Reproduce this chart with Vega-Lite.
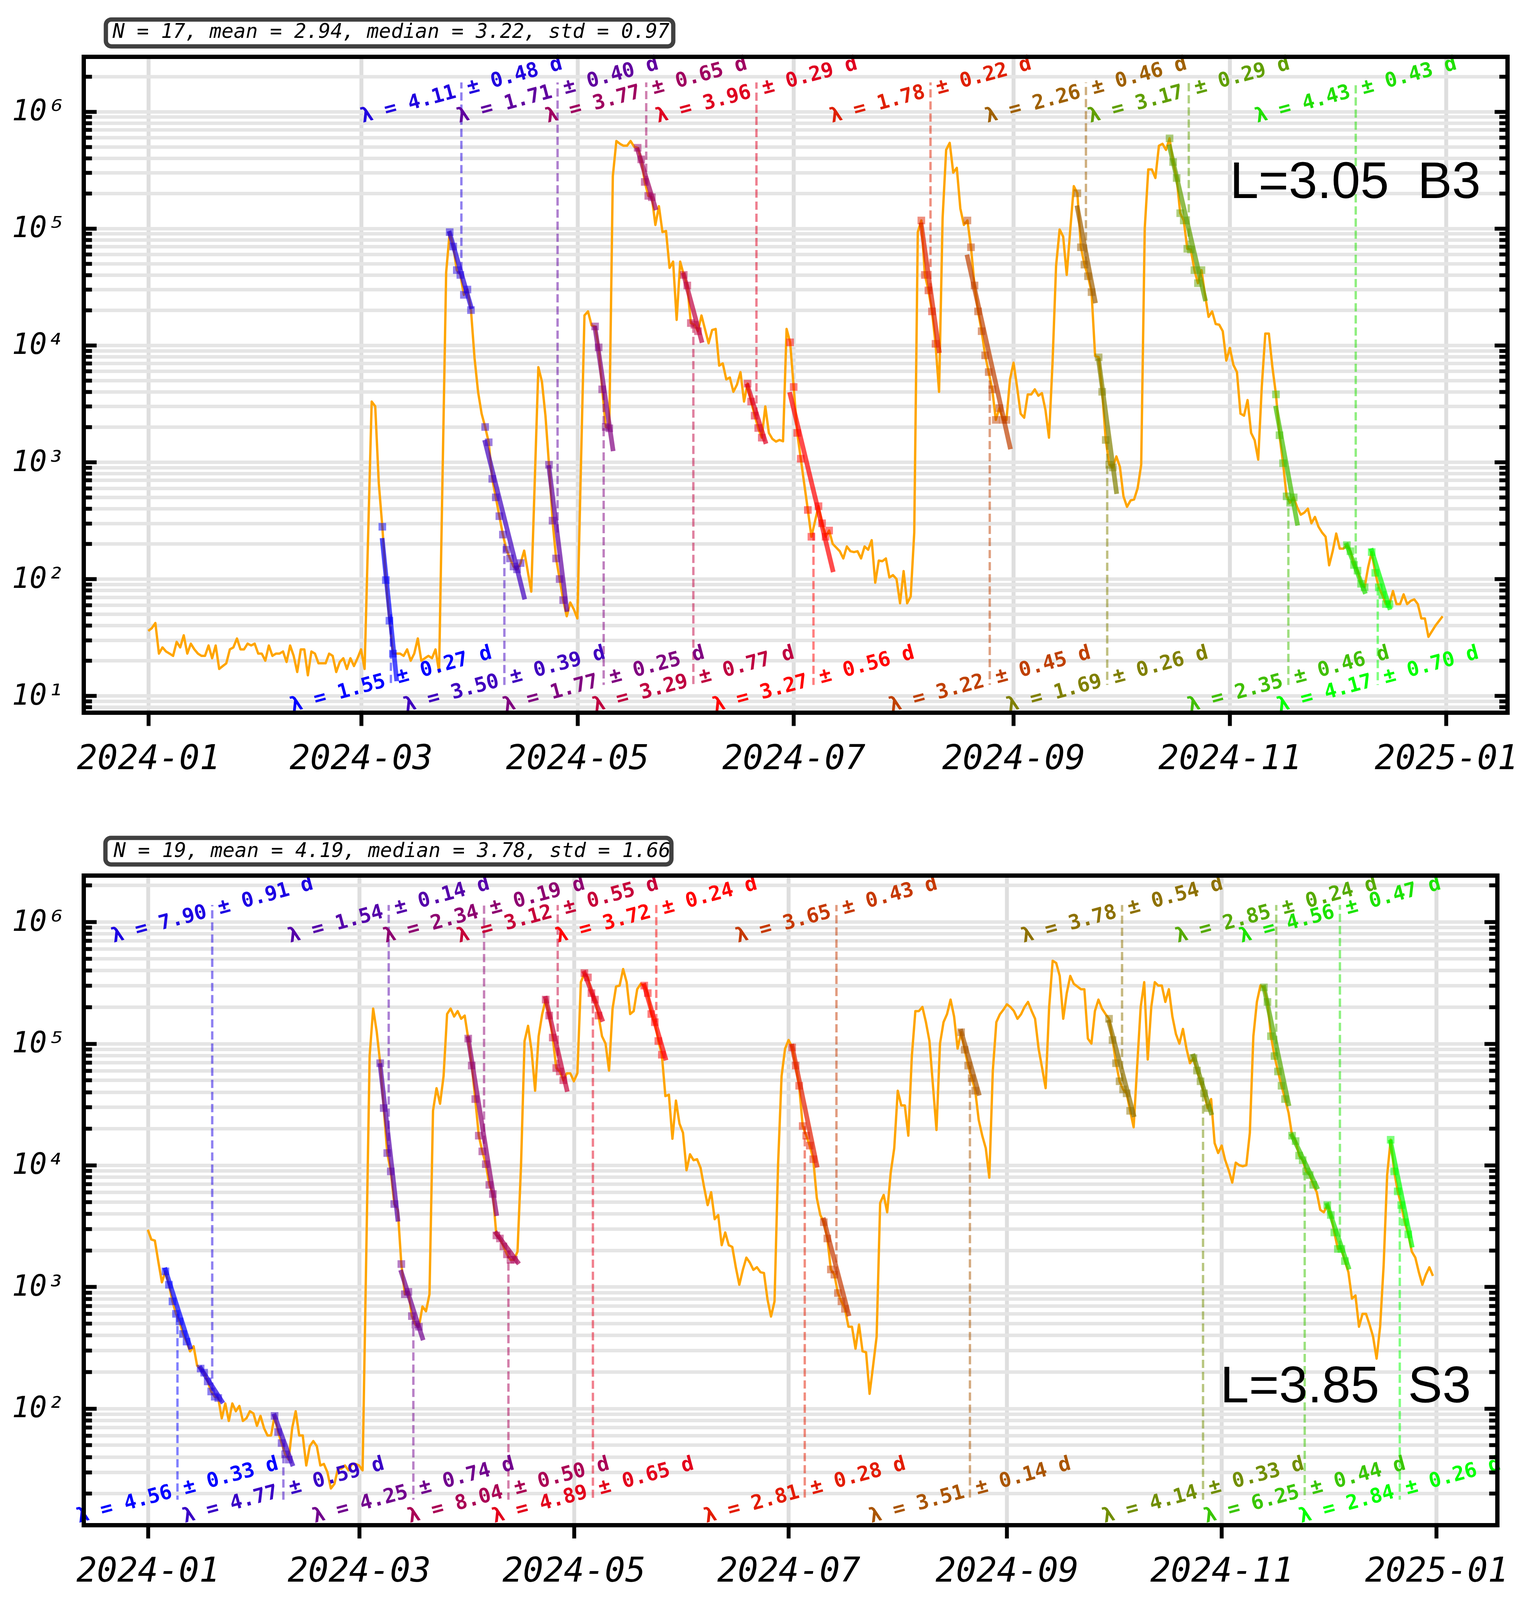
{
"$schema": "https://vega.github.io/schema/vega-lite/v6.json",
"background": "white",
"padding": {"left": 30, "top": 44, "right": 5, "bottom": 5},
"bounds": "flush",
"spacing": 417,
"resolve": {"scale": {"color": "independent"}},
"config": {
  "view": {"stroke": null},
  "axis": {"title": null, "domainColor": "black", "domainWidth": 11, "domainCap": "square", "tickColor": "black", "tickWidth": 10, "gridColor": "#e5e5e5", "gridWidth": 9, "labelColor": "black", "labelFont": "DejaVu Sans Mono", "labelFontStyle": "italic", "labelOverlap": false, "labelFlush": false, "labelBound": false, "labelLimit": 1000}
},
"datasets": {
"s1": [
{"t":"2024-01-01","v":36},{"t":"2024-01-02","v":38},{"t":"2024-01-03","v":42},{"t":"2024-01-04","v":23},{"t":"2024-01-05","v":26},{"t":"2024-01-06","v":24},{"t":"2024-01-07","v":23},{"t":"2024-01-08","v":22},{"t":"2024-01-09","v":29},{"t":"2024-01-10","v":26},{"t":"2024-01-11","v":33},{"t":"2024-01-12","v":23},{"t":"2024-01-13","v":28},{"t":"2024-01-14","v":25},{"t":"2024-01-15","v":23},{"t":"2024-01-16","v":22},{"t":"2024-01-17","v":22},{"t":"2024-01-18","v":27},{"t":"2024-01-19","v":21},{"t":"2024-01-20","v":27},{"t":"2024-01-21","v":17},{"t":"2024-01-22","v":18},{"t":"2024-01-23","v":19},{"t":"2024-01-24","v":25},{"t":"2024-01-25","v":26},{"t":"2024-01-26","v":31},{"t":"2024-01-27","v":25},{"t":"2024-01-28","v":25},{"t":"2024-01-29","v":28},{"t":"2024-01-30","v":27},{"t":"2024-01-31","v":28},
{"t":"2024-02-01","v":23},{"t":"2024-02-02","v":23},{"t":"2024-02-03","v":20},{"t":"2024-02-04","v":27},{"t":"2024-02-05","v":22},{"t":"2024-02-06","v":23},{"t":"2024-02-07","v":23},{"t":"2024-02-08","v":24},{"t":"2024-02-09","v":19.5},{"t":"2024-02-10","v":27},{"t":"2024-02-11","v":22},{"t":"2024-02-12","v":16},{"t":"2024-02-13","v":25},{"t":"2024-02-14","v":25},{"t":"2024-02-15","v":15},{"t":"2024-02-16","v":24},{"t":"2024-02-17","v":23},{"t":"2024-02-18","v":19},{"t":"2024-02-19","v":19},{"t":"2024-02-20","v":19},{"t":"2024-02-21","v":23},{"t":"2024-02-22","v":22},{"t":"2024-02-23","v":16},{"t":"2024-02-24","v":19.5},{"t":"2024-02-25","v":21},{"t":"2024-02-26","v":17},{"t":"2024-02-27","v":21},{"t":"2024-02-28","v":18},{"t":"2024-02-29","v":21},
{"t":"2024-03-01","v":25},{"t":"2024-03-02","v":17},{"t":"2024-03-04","v":3300},{"t":"2024-03-05","v":3000},{"t":"2024-03-06","v":660},{"t":"2024-03-07","v":280,"fit":1},{"t":"2024-03-08","v":98,"fit":1},{"t":"2024-03-09","v":44,"fit":1},{"t":"2024-03-10","v":23,"fit":1},{"t":"2024-03-12","v":23},{"t":"2024-03-13","v":22},{"t":"2024-03-14","v":25},{"t":"2024-03-15","v":20},{"t":"2024-03-16","v":23},{"t":"2024-03-17","v":31},{"t":"2024-03-18","v":20},{"t":"2024-03-19","v":21},{"t":"2024-03-20","v":22},{"t":"2024-03-21","v":21},{"t":"2024-03-22","v":25},{"t":"2024-03-23","v":16},{"t":"2024-03-25","v":42000},{"t":"2024-03-26","v":93000,"fit":2},{"t":"2024-03-27","v":70000,"fit":2},{"t":"2024-03-28","v":44000,"fit":2},{"t":"2024-03-29","v":40000,"fit":2},{"t":"2024-03-30","v":27000,"fit":2},{"t":"2024-03-31","v":30000,"fit":2},
{"t":"2024-04-01","v":20000,"fit":2},{"t":"2024-04-02","v":7800},{"t":"2024-04-03","v":4000},{"t":"2024-04-04","v":2600},{"t":"2024-04-05","v":2000,"fit":3},{"t":"2024-04-06","v":1480,"fit":3},{"t":"2024-04-07","v":720,"fit":3},{"t":"2024-04-08","v":500,"fit":3},{"t":"2024-04-09","v":345,"fit":3},{"t":"2024-04-10","v":240,"fit":3},{"t":"2024-04-11","v":178,"fit":3},{"t":"2024-04-12","v":150,"fit":3},{"t":"2024-04-13","v":128,"fit":3},{"t":"2024-04-14","v":121,"fit":3},{"t":"2024-04-15","v":137,"fit":3},{"t":"2024-04-16","v":175},{"t":"2024-04-18","v":78},{"t":"2024-04-20","v":6500},{"t":"2024-04-21","v":4900},{"t":"2024-04-22","v":2500},{"t":"2024-04-23","v":950,"fit":4},{"t":"2024-04-24","v":316,"fit":4},{"t":"2024-04-25","v":150,"fit":4},{"t":"2024-04-26","v":100,"fit":4},{"t":"2024-04-27","v":66,"fit":4},{"t":"2024-04-28","v":48},{"t":"2024-04-29","v":63},{"t":"2024-04-30","v":55},
{"t":"2024-05-01","v":46},{"t":"2024-05-03","v":18000},{"t":"2024-05-04","v":19500},{"t":"2024-05-05","v":14800},{"t":"2024-05-06","v":14500,"fit":5},{"t":"2024-05-07","v":9600,"fit":5},{"t":"2024-05-08","v":4200,"fit":5},{"t":"2024-05-09","v":2000,"fit":5},{"t":"2024-05-10","v":1950,"fit":5},{"t":"2024-05-11","v":280000},{"t":"2024-05-12","v":560000},{"t":"2024-05-13","v":530000},{"t":"2024-05-14","v":510000},{"t":"2024-05-15","v":510000},{"t":"2024-05-16","v":560000},{"t":"2024-05-17","v":500000},{"t":"2024-05-18","v":490000,"fit":6},{"t":"2024-05-19","v":390000,"fit":6},{"t":"2024-05-20","v":250000,"fit":6},{"t":"2024-05-21","v":190000,"fit":6},{"t":"2024-05-22","v":185000,"fit":6},{"t":"2024-05-23","v":107000},{"t":"2024-05-24","v":155000},{"t":"2024-05-25","v":93000},{"t":"2024-05-26","v":95000},{"t":"2024-05-27","v":46000},{"t":"2024-05-28","v":52000},{"t":"2024-05-29","v":16500},{"t":"2024-05-30","v":52000},{"t":"2024-05-31","v":40000,"fit":7},
{"t":"2024-06-01","v":32500,"fit":7},{"t":"2024-06-02","v":15500,"fit":7},{"t":"2024-06-03","v":15000,"fit":7},{"t":"2024-06-04","v":13200,"fit":7},{"t":"2024-06-05","v":18000},{"t":"2024-06-06","v":13700},{"t":"2024-06-07","v":10400},{"t":"2024-06-08","v":13500},{"t":"2024-06-09","v":13800},{"t":"2024-06-10","v":6700},{"t":"2024-06-11","v":7000},{"t":"2024-06-12","v":5100},{"t":"2024-06-13","v":5300},{"t":"2024-06-14","v":4000},{"t":"2024-06-15","v":4600},{"t":"2024-06-16","v":5900},{"t":"2024-06-17","v":3300},{"t":"2024-06-18","v":4700,"fit":8},{"t":"2024-06-19","v":3300,"fit":8},{"t":"2024-06-20","v":2500,"fit":8},{"t":"2024-06-21","v":1960,"fit":8},{"t":"2024-06-22","v":1620,"fit":8},{"t":"2024-06-23","v":3000},{"t":"2024-06-24","v":1780},{"t":"2024-06-25","v":1580},{"t":"2024-06-26","v":1500},{"t":"2024-06-27","v":1550},{"t":"2024-06-28","v":1510},{"t":"2024-06-29","v":13800},{"t":"2024-06-30","v":10600,"fit":9},
{"t":"2024-07-01","v":4400,"fit":9},{"t":"2024-07-02","v":1780,"fit":9},{"t":"2024-07-03","v":1070,"fit":9},{"t":"2024-07-05","v":390,"fit":9},{"t":"2024-07-06","v":230,"fit":9},{"t":"2024-07-08","v":420,"fit":9},{"t":"2024-07-09","v":300,"fit":9},{"t":"2024-07-10","v":230,"fit":9},{"t":"2024-07-11","v":260,"fit":9},{"t":"2024-07-12","v":200},{"t":"2024-07-14","v":173},{"t":"2024-07-15","v":150},{"t":"2024-07-16","v":190},{"t":"2024-07-17","v":173},{"t":"2024-07-18","v":170},{"t":"2024-07-19","v":173},{"t":"2024-07-20","v":150},{"t":"2024-07-21","v":190},{"t":"2024-07-22","v":178},{"t":"2024-07-23","v":215},{"t":"2024-07-24","v":93},{"t":"2024-07-25","v":144},{"t":"2024-07-26","v":142},{"t":"2024-07-27","v":150},{"t":"2024-07-28","v":103},{"t":"2024-07-29","v":108},{"t":"2024-07-30","v":100},{"t":"2024-07-31","v":62},
{"t":"2024-08-01","v":117},{"t":"2024-08-02","v":62},{"t":"2024-08-03","v":71},{"t":"2024-08-04","v":250},{"t":"2024-08-05","v":93000},{"t":"2024-08-06","v":117000,"fit":10},{"t":"2024-08-07","v":40000,"fit":10},{"t":"2024-08-08","v":29500,"fit":10},{"t":"2024-08-09","v":19500,"fit":10},{"t":"2024-08-10","v":10300,"fit":10},{"t":"2024-08-11","v":4000},{"t":"2024-08-12","v":123000},{"t":"2024-08-13","v":470000},{"t":"2024-08-14","v":540000},{"t":"2024-08-15","v":300000},{"t":"2024-08-16","v":330000},{"t":"2024-08-17","v":148000},{"t":"2024-08-18","v":107000},{"t":"2024-08-19","v":117000,"fit":11},{"t":"2024-08-20","v":69000,"fit":11},{"t":"2024-08-21","v":32500,"fit":11},{"t":"2024-08-22","v":19500,"fit":11},{"t":"2024-08-23","v":13200,"fit":11},{"t":"2024-08-24","v":8200,"fit":11},{"t":"2024-08-25","v":5900,"fit":11},{"t":"2024-08-26","v":4200,"fit":11},{"t":"2024-08-27","v":2300,"fit":11},{"t":"2024-08-28","v":2900,"fit":11},{"t":"2024-08-29","v":2300,"fit":11},{"t":"2024-08-30","v":2300,"fit":11},{"t":"2024-08-31","v":5100},
{"t":"2024-09-01","v":7100},{"t":"2024-09-02","v":4400},{"t":"2024-09-03","v":2600},{"t":"2024-09-04","v":2400},{"t":"2024-09-05","v":3800},{"t":"2024-09-06","v":3800},{"t":"2024-09-07","v":4200},{"t":"2024-09-08","v":3700},{"t":"2024-09-09","v":3900},{"t":"2024-09-10","v":2800},{"t":"2024-09-11","v":1620},{"t":"2024-09-12","v":7100},{"t":"2024-09-13","v":48000},{"t":"2024-09-14","v":98000},{"t":"2024-09-15","v":85000},{"t":"2024-09-16","v":40000},{"t":"2024-09-17","v":98000},{"t":"2024-09-18","v":230000},{"t":"2024-09-19","v":200000,"fit":12},{"t":"2024-09-20","v":69000,"fit":12},{"t":"2024-09-21","v":49000,"fit":12},{"t":"2024-09-22","v":39000,"fit":12},{"t":"2024-09-23","v":28500,"fit":12},{"t":"2024-09-24","v":8100},{"t":"2024-09-25","v":7900,"fit":13},{"t":"2024-09-26","v":4000,"fit":13},{"t":"2024-09-27","v":1550,"fit":13},{"t":"2024-09-28","v":950,"fit":13},{"t":"2024-09-29","v":900,"fit":13},{"t":"2024-09-30","v":1120},
{"t":"2024-10-01","v":910},{"t":"2024-10-02","v":510},{"t":"2024-10-03","v":415},{"t":"2024-10-04","v":470},{"t":"2024-10-05","v":480},{"t":"2024-10-06","v":600},{"t":"2024-10-07","v":950},{"t":"2024-10-08","v":100000},{"t":"2024-10-09","v":320000},{"t":"2024-10-10","v":320000},{"t":"2024-10-11","v":270000},{"t":"2024-10-12","v":510000},{"t":"2024-10-13","v":530000},{"t":"2024-10-14","v":470000},{"t":"2024-10-15","v":590000,"fit":14},{"t":"2024-10-16","v":370000,"fit":14},{"t":"2024-10-17","v":270000,"fit":14},{"t":"2024-10-18","v":135000,"fit":14},{"t":"2024-10-19","v":117000,"fit":14},{"t":"2024-10-20","v":67000,"fit":14},{"t":"2024-10-21","v":66000,"fit":14},{"t":"2024-10-22","v":44000,"fit":14},{"t":"2024-10-23","v":34000,"fit":14},{"t":"2024-10-24","v":44000,"fit":14},{"t":"2024-10-25","v":27000},{"t":"2024-10-26","v":17500},{"t":"2024-10-27","v":19500},{"t":"2024-10-28","v":15200},{"t":"2024-10-29","v":15000},{"t":"2024-10-30","v":13200},{"t":"2024-10-31","v":7400},
{"t":"2024-11-01","v":9500},{"t":"2024-11-02","v":6800},{"t":"2024-11-03","v":5900},{"t":"2024-11-04","v":2600},{"t":"2024-11-05","v":2500},{"t":"2024-11-06","v":3400},{"t":"2024-11-07","v":1780},{"t":"2024-11-08","v":1540},{"t":"2024-11-09","v":1050},{"t":"2024-11-10","v":4400},{"t":"2024-11-11","v":12600},{"t":"2024-11-12","v":12600},{"t":"2024-11-13","v":6500},{"t":"2024-11-14","v":3800,"fit":15},{"t":"2024-11-15","v":1700,"fit":15},{"t":"2024-11-16","v":980,"fit":15},{"t":"2024-11-17","v":510,"fit":15},{"t":"2024-11-18","v":450,"fit":15},{"t":"2024-11-19","v":500,"fit":15},{"t":"2024-11-20","v":410},{"t":"2024-11-21","v":355},{"t":"2024-11-22","v":370},{"t":"2024-11-23","v":400},{"t":"2024-11-24","v":300},{"t":"2024-11-25","v":340},{"t":"2024-11-26","v":280},{"t":"2024-11-27","v":250},{"t":"2024-11-28","v":230},{"t":"2024-11-29","v":131},{"t":"2024-11-30","v":173},
{"t":"2024-12-01","v":245},{"t":"2024-12-02","v":182},{"t":"2024-12-03","v":182},{"t":"2024-12-04","v":195,"fit":16},{"t":"2024-12-05","v":173,"fit":16},{"t":"2024-12-06","v":132,"fit":16},{"t":"2024-12-07","v":118,"fit":16},{"t":"2024-12-08","v":91,"fit":16},{"t":"2024-12-09","v":85,"fit":16},{"t":"2024-12-10","v":126},{"t":"2024-12-11","v":170,"fit":17},{"t":"2024-12-12","v":113,"fit":17},{"t":"2024-12-13","v":85,"fit":17},{"t":"2024-12-14","v":73,"fit":17},{"t":"2024-12-15","v":61,"fit":17},{"t":"2024-12-16","v":61,"fit":17},{"t":"2024-12-17","v":79},{"t":"2024-12-18","v":61},{"t":"2024-12-19","v":61},{"t":"2024-12-20","v":74},{"t":"2024-12-21","v":61},{"t":"2024-12-22","v":65},{"t":"2024-12-23","v":67},{"t":"2024-12-24","v":61},{"t":"2024-12-25","v":46},{"t":"2024-12-26","v":46},{"t":"2024-12-27","v":32},{"t":"2024-12-29","v":40},{"t":"2024-12-31","v":48}
],
"f1": [
{"fit":1,"t":"2024-03-07","v":214},{"fit":1,"t":"2024-03-11","v":14},
{"fit":2,"t":"2024-03-26","v":91000},{"fit":2,"t":"2024-04-01","v":21400},
{"fit":3,"t":"2024-04-05","v":1480},{"fit":3,"t":"2024-04-16","v":70},
{"fit":4,"t":"2024-04-23","v":900},{"fit":4,"t":"2024-04-28","v":55},
{"fit":5,"t":"2024-05-06","v":14000},{"fit":5,"t":"2024-05-11","v":1300},
{"fit":6,"t":"2024-05-18","v":470000},{"fit":6,"t":"2024-05-23","v":150000},
{"fit":7,"t":"2024-05-31","v":40000},{"fit":7,"t":"2024-06-05","v":11000},
{"fit":8,"t":"2024-06-18","v":4500},{"fit":8,"t":"2024-06-23","v":1500},
{"fit":9,"t":"2024-06-30","v":3800},{"fit":9,"t":"2024-07-12","v":120},
{"fit":10,"t":"2024-08-06","v":107000},{"fit":10,"t":"2024-08-11","v":9000},
{"fit":11,"t":"2024-08-19","v":57000},{"fit":11,"t":"2024-08-31","v":1350},
{"fit":12,"t":"2024-09-19","v":150000},{"fit":12,"t":"2024-09-24","v":24000},
{"fit":13,"t":"2024-09-25","v":7400},{"fit":13,"t":"2024-09-30","v":560},
{"fit":14,"t":"2024-10-15","v":500000},{"fit":14,"t":"2024-10-25","v":25000},
{"fit":15,"t":"2024-11-14","v":2900},{"fit":15,"t":"2024-11-20","v":300},
{"fit":16,"t":"2024-12-04","v":195},{"fit":16,"t":"2024-12-09","v":78},
{"fit":17,"t":"2024-12-11","v":175},{"fit":17,"t":"2024-12-16","v":57}
],
"l1": [
{"fit":1,"t":"2024-03-09T10:00:00Z","v0":50,"pos":"b","label":"λ = 1.55 ± 0.27 d"},
{"fit":2,"t":"2024-03-29T07:00:00Z","v0":44000,"pos":"t","label":"λ = 4.11 ± 0.48 d"},
{"fit":3,"t":"2024-04-10T10:00:00Z","v0":200,"pos":"b","label":"λ = 3.50 ± 0.39 d"},
{"fit":4,"t":"2024-04-25T10:00:00Z","v0":250,"pos":"t","label":"λ = 1.71 ± 0.40 d"},
{"fit":5,"t":"2024-05-08T10:00:00Z","v0":4000,"pos":"b","label":"λ = 1.77 ± 0.25 d"},
{"fit":6,"t":"2024-05-20T10:00:00Z","v0":240000,"pos":"t","label":"λ = 3.77 ± 0.65 d"},
{"fit":7,"t":"2024-06-02T17:00:00Z","v0":15000,"pos":"b","label":"λ = 3.29 ± 0.77 d"},
{"fit":8,"t":"2024-06-20T12:00:00Z","v0":2500,"pos":"t","label":"λ = 3.96 ± 0.29 d"},
{"fit":9,"t":"2024-07-06T14:00:00Z","v0":250,"pos":"b","label":"λ = 3.27 ± 0.56 d"},
{"fit":10,"t":"2024-08-08T14:00:00Z","v0":29000,"pos":"t","label":"λ = 1.78 ± 0.22 d"},
{"fit":11,"t":"2024-08-25T07:00:00Z","v0":5000,"pos":"b","label":"λ = 3.22 ± 0.45 d"},
{"fit":12,"t":"2024-09-21T10:00:00Z","v0":49000,"pos":"t","label":"λ = 2.26 ± 0.46 d"},
{"fit":13,"t":"2024-09-27T10:00:00Z","v0":1500,"pos":"b","label":"λ = 1.69 ± 0.26 d"},
{"fit":14,"t":"2024-10-20T10:00:00Z","v0":67000,"pos":"t","label":"λ = 3.17 ± 0.29 d"},
{"fit":15,"t":"2024-11-17T12:00:00Z","v0":510,"pos":"b","label":"λ = 2.35 ± 0.46 d"},
{"fit":16,"t":"2024-12-06T12:00:00Z","v0":130,"pos":"t","label":"λ = 4.43 ± 0.43 d"},
{"fit":17,"t":"2024-12-12T17:00:00Z","v0":85,"pos":"b","label":"λ = 4.17 ± 0.70 d"}
],
"s2": [
{"t":"2024-01-01","v":2950},{"t":"2024-01-02","v":2450},{"t":"2024-01-03","v":2400},{"t":"2024-01-04","v":1600},{"t":"2024-01-05","v":1090},{"t":"2024-01-06","v":1340,"fit":1},{"t":"2024-01-07","v":1040,"fit":1},{"t":"2024-01-08","v":760,"fit":1},{"t":"2024-01-09","v":600,"fit":1},{"t":"2024-01-10","v":520,"fit":1},{"t":"2024-01-11","v":410,"fit":1},{"t":"2024-01-12","v":355,"fit":1},{"t":"2024-01-13","v":295},{"t":"2024-01-14","v":325},{"t":"2024-01-15","v":225},{"t":"2024-01-16","v":213,"fit":2},{"t":"2024-01-17","v":197,"fit":2},{"t":"2024-01-18","v":167,"fit":2},{"t":"2024-01-19","v":138,"fit":2},{"t":"2024-01-20","v":125,"fit":2},{"t":"2024-01-21","v":122,"fit":2},{"t":"2024-01-22","v":83},{"t":"2024-01-23","v":110},{"t":"2024-01-24","v":79},{"t":"2024-01-25","v":110},{"t":"2024-01-26","v":95},{"t":"2024-01-27","v":105},{"t":"2024-01-28","v":79},{"t":"2024-01-29","v":83},{"t":"2024-01-30","v":95},{"t":"2024-01-31","v":91},
{"t":"2024-02-01","v":72},{"t":"2024-02-02","v":87},{"t":"2024-02-03","v":69},{"t":"2024-02-04","v":60},{"t":"2024-02-05","v":60},{"t":"2024-02-06","v":87,"fit":3},{"t":"2024-02-07","v":64,"fit":3},{"t":"2024-02-08","v":52,"fit":3},{"t":"2024-02-09","v":42,"fit":3},{"t":"2024-02-10","v":38,"fit":3},{"t":"2024-02-11","v":69},{"t":"2024-02-12","v":95},{"t":"2024-02-13","v":60},{"t":"2024-02-14","v":60},{"t":"2024-02-15","v":34},{"t":"2024-02-16","v":49},{"t":"2024-02-17","v":54},{"t":"2024-02-18","v":49},{"t":"2024-02-19","v":34},{"t":"2024-02-20","v":35},{"t":"2024-02-21","v":30},{"t":"2024-02-22","v":22},{"t":"2024-02-23","v":24},{"t":"2024-02-24","v":32},{"t":"2024-02-25","v":32},{"t":"2024-02-26","v":34},{"t":"2024-02-27","v":31},{"t":"2024-02-28","v":35},{"t":"2024-02-29","v":35},
{"t":"2024-03-01","v":34},{"t":"2024-03-02","v":31},{"t":"2024-03-04","v":79000},{"t":"2024-03-05","v":194000},{"t":"2024-03-06","v":126000},{"t":"2024-03-07","v":69000,"fit":4},{"t":"2024-03-08","v":29500,"fit":4},{"t":"2024-03-09","v":12600,"fit":4},{"t":"2024-03-10","v":8900,"fit":4},{"t":"2024-03-11","v":4800,"fit":4},{"t":"2024-03-12","v":4300},{"t":"2024-03-13","v":1540,"fit":5},{"t":"2024-03-14","v":870,"fit":5},{"t":"2024-03-15","v":910,"fit":5},{"t":"2024-03-16","v":575,"fit":5},{"t":"2024-03-17","v":490,"fit":5},{"t":"2024-03-18","v":470,"fit":5},{"t":"2024-03-19","v":690},{"t":"2024-03-20","v":630},{"t":"2024-03-21","v":870},{"t":"2024-03-22","v":28000},{"t":"2024-03-23","v":43000},{"t":"2024-03-24","v":32000},{"t":"2024-03-25","v":54000},{"t":"2024-03-26","v":175000},{"t":"2024-03-27","v":194000},{"t":"2024-03-28","v":167000},{"t":"2024-03-29","v":185000},{"t":"2024-03-30","v":160000},{"t":"2024-03-31","v":170000},
{"t":"2024-04-01","v":110000,"fit":6},{"t":"2024-04-02","v":66000,"fit":6},{"t":"2024-04-03","v":35000,"fit":6},{"t":"2024-04-04","v":17500,"fit":6},{"t":"2024-04-05","v":13000,"fit":6},{"t":"2024-04-06","v":10200,"fit":6},{"t":"2024-04-07","v":6900,"fit":6},{"t":"2024-04-08","v":5800,"fit":6},{"t":"2024-04-09","v":2650,"fit":7},{"t":"2024-04-10","v":2500,"fit":7},{"t":"2024-04-11","v":2150,"fit":7},{"t":"2024-04-12","v":1850,"fit":7},{"t":"2024-04-13","v":1670,"fit":7},{"t":"2024-04-14","v":1670,"fit":7},{"t":"2024-04-15","v":1950},{"t":"2024-04-16","v":10000},{"t":"2024-04-17","v":105000},{"t":"2024-04-18","v":140000},{"t":"2024-04-19","v":87000},{"t":"2024-04-20","v":41000},{"t":"2024-04-21","v":115000},{"t":"2024-04-22","v":174000},{"t":"2024-04-23","v":230000,"fit":8},{"t":"2024-04-24","v":170000,"fit":8},{"t":"2024-04-25","v":112000,"fit":8},{"t":"2024-04-26","v":63000,"fit":8},{"t":"2024-04-27","v":59000,"fit":8},{"t":"2024-04-28","v":50000,"fit":8},{"t":"2024-04-29","v":57000},{"t":"2024-04-30","v":57000},
{"t":"2024-05-01","v":49000},{"t":"2024-05-02","v":57000},{"t":"2024-05-03","v":320000},{"t":"2024-05-04","v":380000,"fit":9},{"t":"2024-05-05","v":350000,"fit":9},{"t":"2024-05-06","v":260000,"fit":9},{"t":"2024-05-07","v":230000,"fit":9},{"t":"2024-05-08","v":170000,"fit":9},{"t":"2024-05-09","v":115000},{"t":"2024-05-10","v":100000},{"t":"2024-05-11","v":60000},{"t":"2024-05-12","v":194000},{"t":"2024-05-13","v":295000},{"t":"2024-05-14","v":300000},{"t":"2024-05-15","v":410000},{"t":"2024-05-16","v":320000},{"t":"2024-05-17","v":175000},{"t":"2024-05-18","v":185000},{"t":"2024-05-19","v":280000},{"t":"2024-05-20","v":310000},{"t":"2024-05-21","v":300000,"fit":10},{"t":"2024-05-22","v":260000,"fit":10},{"t":"2024-05-23","v":175000,"fit":10},{"t":"2024-05-24","v":150000,"fit":10},{"t":"2024-05-25","v":105000,"fit":10},{"t":"2024-05-26","v":81000,"fit":10},{"t":"2024-05-27","v":37000},{"t":"2024-05-28","v":38000},{"t":"2024-05-29","v":16500},{"t":"2024-05-30","v":34000},{"t":"2024-05-31","v":22000},
{"t":"2024-06-01","v":18500},{"t":"2024-06-02","v":9100},{"t":"2024-06-03","v":12300},{"t":"2024-06-04","v":11000},{"t":"2024-06-05","v":11200},{"t":"2024-06-06","v":9500},{"t":"2024-06-07","v":6600},{"t":"2024-06-08","v":4700},{"t":"2024-06-09","v":6000},{"t":"2024-06-10","v":3600},{"t":"2024-06-11","v":3900},{"t":"2024-06-12","v":2200},{"t":"2024-06-13","v":2800},{"t":"2024-06-14","v":2200},{"t":"2024-06-15","v":2130},{"t":"2024-06-16","v":1450},{"t":"2024-06-17","v":1040},{"t":"2024-06-18","v":1380},{"t":"2024-06-19","v":1740},{"t":"2024-06-20","v":1580},{"t":"2024-06-21","v":1380},{"t":"2024-06-22","v":1450},{"t":"2024-06-23","v":1320},{"t":"2024-06-24","v":1300},{"t":"2024-06-25","v":790},{"t":"2024-06-26","v":570},{"t":"2024-06-27","v":760},{"t":"2024-06-28","v":10000},{"t":"2024-06-29","v":54000},{"t":"2024-06-30","v":91000},
{"t":"2024-07-01","v":107000},{"t":"2024-07-02","v":93000,"fit":11},{"t":"2024-07-03","v":66000,"fit":11},{"t":"2024-07-04","v":45000,"fit":11},{"t":"2024-07-05","v":21000,"fit":11},{"t":"2024-07-06","v":17500,"fit":11},{"t":"2024-07-07","v":14500,"fit":11},{"t":"2024-07-08","v":11200,"fit":11},{"t":"2024-07-09","v":5400},{"t":"2024-07-10","v":3900},{"t":"2024-07-11","v":3400,"fit":12},{"t":"2024-07-12","v":2500,"fit":12},{"t":"2024-07-13","v":1390,"fit":12},{"t":"2024-07-14","v":1260,"fit":12},{"t":"2024-07-15","v":890,"fit":12},{"t":"2024-07-16","v":760,"fit":12},{"t":"2024-07-17","v":660,"fit":12},{"t":"2024-07-18","v":470},{"t":"2024-07-19","v":470},{"t":"2024-07-20","v":310},{"t":"2024-07-21","v":490},{"t":"2024-07-22","v":295},{"t":"2024-07-23","v":290},{"t":"2024-07-24","v":132},{"t":"2024-07-25","v":225},{"t":"2024-07-26","v":390},{"t":"2024-07-27","v":4900},{"t":"2024-07-28","v":5700},{"t":"2024-07-29","v":4100},{"t":"2024-07-30","v":8700},{"t":"2024-07-31","v":13800},
{"t":"2024-08-01","v":41000},{"t":"2024-08-02","v":31000},{"t":"2024-08-03","v":31000},{"t":"2024-08-04","v":17500},{"t":"2024-08-05","v":79000},{"t":"2024-08-06","v":185000},{"t":"2024-08-07","v":185000},{"t":"2024-08-08","v":200000},{"t":"2024-08-09","v":150000},{"t":"2024-08-10","v":105000},{"t":"2024-08-11","v":45000},{"t":"2024-08-12","v":19500},{"t":"2024-08-13","v":100000},{"t":"2024-08-14","v":150000},{"t":"2024-08-15","v":175000},{"t":"2024-08-16","v":230000},{"t":"2024-08-17","v":167000},{"t":"2024-08-18","v":91000},{"t":"2024-08-19","v":124000,"fit":13},{"t":"2024-08-20","v":89000,"fit":13},{"t":"2024-08-21","v":66000,"fit":13},{"t":"2024-08-22","v":52000,"fit":13},{"t":"2024-08-23","v":41000,"fit":13},{"t":"2024-08-24","v":23500},{"t":"2024-08-25","v":17500},{"t":"2024-08-26","v":13800},{"t":"2024-08-27","v":7900},{"t":"2024-08-28","v":60000},{"t":"2024-08-29","v":150000},{"t":"2024-08-30","v":174000},{"t":"2024-08-31","v":190000},
{"t":"2024-09-01","v":210000},{"t":"2024-09-02","v":200000},{"t":"2024-09-03","v":185000},{"t":"2024-09-04","v":160000},{"t":"2024-09-05","v":174000},{"t":"2024-09-06","v":200000},{"t":"2024-09-07","v":220000},{"t":"2024-09-08","v":186000},{"t":"2024-09-09","v":160000},{"t":"2024-09-10","v":91000},{"t":"2024-09-11","v":63000},{"t":"2024-09-12","v":43000},{"t":"2024-09-13","v":200000},{"t":"2024-09-14","v":480000},{"t":"2024-09-15","v":460000},{"t":"2024-09-16","v":360000},{"t":"2024-09-17","v":160000},{"t":"2024-09-18","v":260000},{"t":"2024-09-19","v":360000},{"t":"2024-09-20","v":310000},{"t":"2024-09-21","v":295000},{"t":"2024-09-22","v":280000},{"t":"2024-09-23","v":280000},{"t":"2024-09-24","v":110000},{"t":"2024-09-25","v":100000},{"t":"2024-09-26","v":185000},{"t":"2024-09-27","v":230000},{"t":"2024-09-28","v":194000},{"t":"2024-09-29","v":175000},{"t":"2024-09-30","v":160000,"fit":14},
{"t":"2024-10-01","v":107000,"fit":14},{"t":"2024-10-02","v":69000,"fit":14},{"t":"2024-10-03","v":49000,"fit":14},{"t":"2024-10-04","v":42000,"fit":14},{"t":"2024-10-05","v":39000,"fit":14},{"t":"2024-10-06","v":28000,"fit":14},{"t":"2024-10-07","v":20500},{"t":"2024-10-08","v":66000},{"t":"2024-10-09","v":200000},{"t":"2024-10-10","v":320000},{"t":"2024-10-11","v":74000},{"t":"2024-10-12","v":200000},{"t":"2024-10-13","v":320000},{"t":"2024-10-14","v":300000},{"t":"2024-10-15","v":300000},{"t":"2024-10-16","v":220000},{"t":"2024-10-17","v":280000},{"t":"2024-10-18","v":167000},{"t":"2024-10-19","v":120000},{"t":"2024-10-20","v":100000},{"t":"2024-10-21","v":132000},{"t":"2024-10-22","v":91000},{"t":"2024-10-23","v":69000},{"t":"2024-10-24","v":76000,"fit":15},{"t":"2024-10-25","v":60000,"fit":15},{"t":"2024-10-26","v":49000,"fit":15},{"t":"2024-10-27","v":39000,"fit":15},{"t":"2024-10-28","v":29500,"fit":15},{"t":"2024-10-29","v":35000},{"t":"2024-10-30","v":15200},{"t":"2024-10-31","v":12600},
{"t":"2024-11-01","v":14500},{"t":"2024-11-02","v":11000},{"t":"2024-11-03","v":9100},{"t":"2024-11-04","v":7200},{"t":"2024-11-05","v":10500},{"t":"2024-11-06","v":10000},{"t":"2024-11-07","v":9800},{"t":"2024-11-08","v":10000},{"t":"2024-11-09","v":18500},{"t":"2024-11-10","v":115000},{"t":"2024-11-11","v":220000},{"t":"2024-11-12","v":300000},{"t":"2024-11-13","v":290000,"fit":16},{"t":"2024-11-14","v":220000,"fit":16},{"t":"2024-11-15","v":115000,"fit":16},{"t":"2024-11-16","v":79000,"fit":16},{"t":"2024-11-17","v":59000,"fit":16},{"t":"2024-11-18","v":45000,"fit":16},{"t":"2024-11-19","v":35000,"fit":16},{"t":"2024-11-20","v":27000},{"t":"2024-11-21","v":17500,"fit":17},{"t":"2024-11-22","v":15800,"fit":17},{"t":"2024-11-23","v":12000,"fit":17},{"t":"2024-11-24","v":11000,"fit":17},{"t":"2024-11-25","v":8900,"fit":17},{"t":"2024-11-26","v":8300,"fit":17},{"t":"2024-11-27","v":6900,"fit":17},{"t":"2024-11-28","v":6000},{"t":"2024-11-29","v":4300},{"t":"2024-11-30","v":4100},
{"t":"2024-12-01","v":4700,"fit":18},{"t":"2024-12-02","v":3900,"fit":18},{"t":"2024-12-03","v":2800,"fit":18},{"t":"2024-12-04","v":2050,"fit":18},{"t":"2024-12-05","v":2050,"fit":18},{"t":"2024-12-06","v":1630,"fit":18},{"t":"2024-12-07","v":1320},{"t":"2024-12-08","v":800},{"t":"2024-12-09","v":850},{"t":"2024-12-10","v":470},{"t":"2024-12-11","v":600},{"t":"2024-12-12","v":600},{"t":"2024-12-13","v":490},{"t":"2024-12-14","v":390},{"t":"2024-12-15","v":257},{"t":"2024-12-16","v":470},{"t":"2024-12-17","v":1500},{"t":"2024-12-18","v":8300},{"t":"2024-12-19","v":16200,"fit":19},{"t":"2024-12-20","v":8900,"fit":19},{"t":"2024-12-21","v":6100,"fit":19},{"t":"2024-12-22","v":4700,"fit":19},{"t":"2024-12-23","v":3400,"fit":19},{"t":"2024-12-24","v":2700,"fit":19},{"t":"2024-12-25","v":1950},{"t":"2024-12-26","v":1740},{"t":"2024-12-27","v":1320},{"t":"2024-12-28","v":1040},{"t":"2024-12-29","v":1260},{"t":"2024-12-30","v":1450},{"t":"2024-12-31","v":1230}
],
"f2": [
{"fit":1,"t":"2024-01-06","v":1380},{"fit":1,"t":"2024-01-13","v":320},
{"fit":2,"t":"2024-01-16","v":214},{"fit":2,"t":"2024-01-22","v":115},
{"fit":3,"t":"2024-02-06","v":87},{"fit":3,"t":"2024-02-11","v":35},
{"fit":4,"t":"2024-03-07","v":66000},{"fit":4,"t":"2024-03-12","v":3600},
{"fit":5,"t":"2024-03-13","v":1320},{"fit":5,"t":"2024-03-19","v":380},
{"fit":6,"t":"2024-04-01","v":110000},{"fit":6,"t":"2024-04-09","v":4000},
{"fit":7,"t":"2024-04-09","v":2750},{"fit":7,"t":"2024-04-15","v":1600},
{"fit":8,"t":"2024-04-23","v":235000},{"fit":8,"t":"2024-04-29","v":42000},
{"fit":9,"t":"2024-05-04","v":380000},{"fit":9,"t":"2024-05-09","v":158000},
{"fit":10,"t":"2024-05-21","v":300000},{"fit":10,"t":"2024-05-27","v":76000},
{"fit":11,"t":"2024-07-02","v":95000},{"fit":11,"t":"2024-07-09","v":10000},
{"fit":12,"t":"2024-07-11","v":3550},{"fit":12,"t":"2024-07-18","v":600},
{"fit":13,"t":"2024-08-19","v":126000},{"fit":13,"t":"2024-08-24","v":39000},
{"fit":14,"t":"2024-09-30","v":150000},{"fit":14,"t":"2024-10-07","v":26000},
{"fit":15,"t":"2024-10-24","v":79000},{"fit":15,"t":"2024-10-29","v":27000},
{"fit":16,"t":"2024-11-13","v":290000},{"fit":16,"t":"2024-11-20","v":32000},
{"fit":17,"t":"2024-11-21","v":17500},{"fit":17,"t":"2024-11-28","v":6600},
{"fit":18,"t":"2024-12-01","v":4700},{"fit":18,"t":"2024-12-07","v":1450},
{"fit":19,"t":"2024-12-19","v":15500},{"fit":19,"t":"2024-12-25","v":2200}
],
"l2": [
{"fit":1,"t":"2024-01-09T10:00:00Z","v0":600,"pos":"b","label":"λ = 4.56 ± 0.33 d"},
{"fit":2,"t":"2024-01-19T07:00:00Z","v0":140,"pos":"t","label":"λ = 7.90 ± 0.91 d"},
{"fit":3,"t":"2024-02-08T12:00:00Z","v0":52,"pos":"b","label":"λ = 4.77 ± 0.59 d"},
{"fit":4,"t":"2024-03-09T10:00:00Z","v0":12600,"pos":"t","label":"λ = 1.54 ± 0.14 d"},
{"fit":5,"t":"2024-03-16T10:00:00Z","v0":575,"pos":"b","label":"λ = 4.25 ± 0.74 d"},
{"fit":6,"t":"2024-04-05T12:00:00Z","v0":15000,"pos":"t","label":"λ = 2.34 ± 0.19 d"},
{"fit":7,"t":"2024-04-12T10:00:00Z","v0":2000,"pos":"b","label":"λ = 8.04 ± 0.50 d"},
{"fit":8,"t":"2024-04-26T10:00:00Z","v0":63000,"pos":"t","label":"λ = 3.12 ± 0.55 d"},
{"fit":9,"t":"2024-05-06T10:00:00Z","v0":260000,"pos":"b","label":"λ = 4.89 ± 0.65 d"},
{"fit":10,"t":"2024-05-24T10:00:00Z","v0":150000,"pos":"t","label":"λ = 3.72 ± 0.24 d"},
{"fit":11,"t":"2024-07-05T14:00:00Z","v0":21000,"pos":"b","label":"λ = 2.81 ± 0.28 d"},
{"fit":12,"t":"2024-07-14T14:00:00Z","v0":1260,"pos":"t","label":"λ = 3.65 ± 0.43 d"},
{"fit":13,"t":"2024-08-21T12:00:00Z","v0":66000,"pos":"b","label":"λ = 3.51 ± 0.14 d"},
{"fit":14,"t":"2024-10-03T17:00:00Z","v0":49000,"pos":"t","label":"λ = 3.78 ± 0.54 d"},
{"fit":15,"t":"2024-10-26T17:00:00Z","v0":49000,"pos":"b","label":"λ = 4.14 ± 0.33 d"},
{"fit":16,"t":"2024-11-16T12:00:00Z","v0":79000,"pos":"t","label":"λ = 2.85 ± 0.24 d"},
{"fit":17,"t":"2024-11-24T14:00:00Z","v0":11000,"pos":"b","label":"λ = 6.25 ± 0.44 d"},
{"fit":18,"t":"2024-12-04T14:00:00Z","v0":2050,"pos":"t","label":"λ = 4.56 ± 0.47 d"},
{"fit":19,"t":"2024-12-21T14:00:00Z","v0":4700,"pos":"b","label":"λ = 2.84 ± 0.26 d"}
]
},
"vconcat": [
{
 "width": 3646, "height": 1679,
 "resolve": {"axis": {"x": "independent", "y": "independent"}},
 "layer": [
  {
   "data": {"name": "s1"},
   "mark": {"type": "line", "color": "#ffa500", "strokeWidth": 6, "strokeJoin": "round"},
   "encoding": {
    "x": {"field": "t", "type": "temporal",
          "scale": {"type": "utc", "nice": false, "domain": [{"year":2023,"month":12,"date":13,"hours":18,"utc":true},{"year":2025,"month":1,"date":18,"hours":6,"utc":true}]},
          "axis": {"orient": "bottom", "values": [{"year":2024,"month":1,"date":1,"utc":true},{"year":2024,"month":3,"date":1,"utc":true},{"year":2024,"month":5,"date":1,"utc":true},{"year":2024,"month":7,"date":1,"utc":true},{"year":2024,"month":9,"date":1,"utc":true},{"year":2024,"month":11,"date":1,"utc":true},{"year":2025,"month":1,"date":1,"utc":true}],
                   "labelExpr": "utcFormat(datum.value, '%Y-%m')", "tickSize": 34, "labelPadding": 41, "labelFontSize": 87, "grid": false, "domain": true, "zindex": 1}},
    "y": {"field": "v", "type": "quantitative",
          "scale": {"type": "log", "nice": false, "domain": [7.21, 2951000]},
          "axis": {"orient": "left", "values": [10,100,1000,10000,100000,1000000], "tickSize": -33, "labelPadding": 83, "labelFontSize": 74,
                   "labelExpr": "'10' + ['⁰','¹','²','³','⁴','⁵','⁶','⁷'][round(log(datum.value)/LN10)]", "grid": false, "domain": true, "zindex": 1}}
   }
  },
  {
   "data": {"name": "s1"},
   "transform": [{"filter": "isValid(datum.fit)"}],
   "mark": {"type": "point", "shape": "square", "filled": true, "size": 380, "opacity": 0.5, "strokeWidth": 0},
   "encoding": {
    "x": {"field": "t", "type": "temporal",
          "axis": {"orient": "bottom", "values": [{"year":2024,"month":1,"date":1,"utc":true},{"year":2024,"month":3,"date":1,"utc":true},{"year":2024,"month":5,"date":1,"utc":true},{"year":2024,"month":7,"date":1,"utc":true},{"year":2024,"month":9,"date":1,"utc":true},{"year":2024,"month":11,"date":1,"utc":true},{"year":2025,"month":1,"date":1,"utc":true}],
                   "grid": true, "gridColor": "#dedede", "gridWidth": 10, "ticks": false, "labels": false, "domain": false, "zindex": 0}},
    "y": {"field": "v", "type": "quantitative",
          "axis": {"orient": "left", "values": [8,9,10,20,30,40,50,60,70,80,90,100,200,300,400,500,600,700,800,900,1000,2000,3000,4000,5000,6000,7000,8000,9000,10000,20000,30000,40000,50000,60000,70000,80000,90000,100000,200000,300000,400000,500000,600000,700000,800000,900000,1000000,2000000],
                   "grid": true, "ticks": false, "labels": false, "domain": false, "zindex": 0}},
    "color": {"field": "fit", "type": "ordinal", "legend": null, "scale": {"domain": [1,2,3,4,5,6,7,8,9,10,11,12,13,14,15,16,17], "range": ["#0000ff","#2000df","#4000bf","#60009f","#800080","#9f0060","#bf0040","#df0020","#ff0000","#df2000","#bf4000","#9f6000","#808000","#609f00","#40bf00","#20df00","#00ff00"]}}
   }
  },
  {
   "data": {"name": "f1"},
   "mark": {"type": "line", "strokeWidth": 12, "opacity": 0.7, "strokeCap": "square"},
   "encoding": {
    "x": {"field": "t", "type": "temporal", "axis": {"orient": "top", "ticks": false, "labels": false, "domain": true, "grid": false, "zindex": 1}},
    "y": {"field": "v", "type": "quantitative",
          "axis": {"orient": "left", "values": [8,9,20,30,40,50,60,70,80,90,200,300,400,500,600,700,800,900,2000,3000,4000,5000,6000,7000,8000,9000,20000,30000,40000,50000,60000,70000,80000,90000,200000,300000,400000,500000,600000,700000,800000,900000,2000000],
                   "tickSize": -21, "labels": false, "domain": false, "grid": false, "zindex": 1}},
    "color": {"field": "fit", "type": "ordinal", "legend": null, "scale": {"domain": [1,2,3,4,5,6,7,8,9,10,11,12,13,14,15,16,17], "range": ["#0000ff","#2000df","#4000bf","#60009f","#800080","#9f0060","#bf0040","#df0020","#ff0000","#df2000","#bf4000","#9f6000","#808000","#609f00","#40bf00","#20df00","#00ff00"]}}
   }
  },
  {
   "data": {"name": "l1"},
   "transform": [{"filter": "datum.pos == 't'"}],
   "mark": {"type": "rule", "strokeDash": [21, 10], "strokeWidth": 6, "opacity": 0.5},
   "encoding": {
    "x": {"field": "t", "type": "temporal", "axis": null},
    "y": {"field": "v0", "type": "quantitative",
          "axis": {"orient": "right", "values": [10,100,1000,10000,100000,1000000], "tickSize": -33, "labels": false, "domain": true, "grid": false, "zindex": 1}},
    "y2": {"datum": 1774000},
    "color": {"field": "fit", "type": "ordinal", "legend": null, "scale": {"domain": [1,2,3,4,5,6,7,8,9,10,11,12,13,14,15,16,17], "range": ["#0000ff","#2000df","#4000bf","#60009f","#800080","#9f0060","#bf0040","#df0020","#ff0000","#df2000","#bf4000","#9f6000","#808000","#609f00","#40bf00","#20df00","#00ff00"]}}
   }
  },
  {
   "data": {"name": "l1"},
   "transform": [{"filter": "datum.pos == 'b'"}],
   "mark": {"type": "rule", "strokeDash": [21, 10], "strokeWidth": 6, "opacity": 0.5},
   "encoding": {
    "x": {"field": "t", "type": "temporal", "axis": null},
    "y": {"field": "v0", "type": "quantitative",
          "axis": {"orient": "right", "values": [8,9,20,30,40,50,60,70,80,90,200,300,400,500,600,700,800,900,2000,3000,4000,5000,6000,7000,8000,9000,20000,30000,40000,50000,60000,70000,80000,90000,200000,300000,400000,500000,600000,700000,800000,900000,2000000],
                   "tickSize": -21, "labels": false, "domain": false, "grid": false, "zindex": 1}},
    "y2": {"datum": 12.4},
    "color": {"field": "fit", "type": "ordinal", "legend": null, "scale": {"domain": [1,2,3,4,5,6,7,8,9,10,11,12,13,14,15,16,17], "range": ["#0000ff","#2000df","#4000bf","#60009f","#800080","#9f0060","#bf0040","#df0020","#ff0000","#df2000","#bf4000","#9f6000","#808000","#609f00","#40bf00","#20df00","#00ff00"]}}
   }
  },
  {
   "data": {"name": "l1"},
   "transform": [{"filter": "datum.pos == 't'"}],
   "mark": {"type": "text", "font": "DejaVu Sans Mono", "fontWeight": "bold", "fontSize": 52, "angle": 345, "align": "center", "baseline": "middle"},
   "encoding": {
    "x": {"field": "t", "type": "temporal", "axis": null},
    "y": {"datum": 1535000, "axis": null},
    "text": {"field": "label"},
    "color": {"field": "fit", "type": "ordinal", "legend": null, "scale": {"domain": [1,2,3,4,5,6,7,8,9,10,11,12,13,14,15,16,17], "range": ["#0000ff","#2000df","#4000bf","#60009f","#800080","#9f0060","#bf0040","#df0020","#ff0000","#df2000","#bf4000","#9f6000","#808000","#609f00","#40bf00","#20df00","#00ff00"]}}
   }
  },
  {
   "data": {"name": "l1"},
   "transform": [{"filter": "datum.pos == 'b'"}],
   "mark": {"type": "text", "font": "DejaVu Sans Mono", "fontWeight": "bold", "fontSize": 52, "angle": 345, "align": "center", "baseline": "middle"},
   "encoding": {
    "x": {"field": "t", "type": "temporal", "axis": null},
    "y": {"datum": 13.97, "axis": null},
    "text": {"field": "label"},
    "color": {"field": "fit", "type": "ordinal", "legend": null, "scale": {"domain": [1,2,3,4,5,6,7,8,9,10,11,12,13,14,15,16,17], "range": ["#0000ff","#2000df","#4000bf","#60009f","#800080","#9f0060","#bf0040","#df0020","#ff0000","#df2000","#bf4000","#9f6000","#808000","#609f00","#40bf00","#20df00","#00ff00"]}}
   }
  },
  {
   "data": {"values": [{}]},
   "mark": {"type": "rect", "fill": "white", "stroke": "#404040", "strokeWidth": 11, "cornerRadius": 14},
   "encoding": {
    "x": {"datum": {"year":2023,"month":12,"date":20,"hours":1,"utc":true}, "type": "temporal", "axis": null},
    "x2": {"datum": {"year":2024,"month":5,"date":28,"hours":1,"utc":true}},
    "y": {"datum": 6135000, "axis": null},
    "y2": {"datum": 3615000}
   }
  },
  {
   "data": {"values": [{}]},
   "mark": {"type": "text", "text": "N = 17, mean = 2.94, median = 3.22, std = 0.97", "font": "DejaVu Sans Mono", "fontStyle": "italic", "fontSize": 51.5, "align": "left", "baseline": "middle", "color": "black"},
   "encoding": {
    "x": {"datum": {"year":2023,"month":12,"date":21,"hours":22,"utc":true}, "type": "temporal", "axis": null},
    "y": {"datum": 4810000, "axis": null}
   }
  },
  {
   "data": {"values": [{}]},
   "mark": {"type": "text", "text": "L=3.05\u00a0\u00a0B3", "font": "Liberation Sans", "fontSize": 132, "align": "left", "baseline": "alphabetic", "color": "black"},
   "encoding": {
    "x": {"datum": {"year":2024,"month":11,"date":1,"utc":true}, "type": "temporal", "axis": null},
    "y": {"datum": 182400, "axis": null}
   }
  }
 ]
},
{
 "width": 3620, "height": 1663,
 "resolve": {"axis": {"x": "independent", "y": "independent"}},
 "layer": [
  {
   "data": {"name": "s2"},
   "mark": {"type": "line", "color": "#ffa500", "strokeWidth": 6, "strokeJoin": "round"},
   "encoding": {
    "x": {"field": "t", "type": "temporal",
          "scale": {"type": "utc", "nice": false, "domain": [{"year":2023,"month":12,"date":13,"hours":18,"utc":true},{"year":2025,"month":1,"date":18,"hours":6,"utc":true}]},
          "axis": {"orient": "bottom", "values": [{"year":2024,"month":1,"date":1,"utc":true},{"year":2024,"month":3,"date":1,"utc":true},{"year":2024,"month":5,"date":1,"utc":true},{"year":2024,"month":7,"date":1,"utc":true},{"year":2024,"month":9,"date":1,"utc":true},{"year":2024,"month":11,"date":1,"utc":true},{"year":2025,"month":1,"date":1,"utc":true}],
                   "labelExpr": "utcFormat(datum.value, '%Y-%m')", "tickSize": 34, "labelPadding": 41, "labelFontSize": 87, "grid": false, "domain": true, "zindex": 1}},
    "y": {"field": "v", "type": "quantitative",
          "scale": {"type": "log", "nice": false, "domain": [11.02, 2415000]},
          "axis": {"orient": "left", "values": [100,1000,10000,100000,1000000], "tickSize": -33, "labelPadding": 83, "labelFontSize": 74,
                   "labelExpr": "'10' + ['⁰','¹','²','³','⁴','⁵','⁶','⁷'][round(log(datum.value)/LN10)]", "grid": false, "domain": true, "zindex": 1}}
   }
  },
  {
   "data": {"name": "s2"},
   "transform": [{"filter": "isValid(datum.fit)"}],
   "mark": {"type": "point", "shape": "square", "filled": true, "size": 380, "opacity": 0.5, "strokeWidth": 0},
   "encoding": {
    "x": {"field": "t", "type": "temporal",
          "axis": {"orient": "bottom", "values": [{"year":2024,"month":1,"date":1,"utc":true},{"year":2024,"month":3,"date":1,"utc":true},{"year":2024,"month":5,"date":1,"utc":true},{"year":2024,"month":7,"date":1,"utc":true},{"year":2024,"month":9,"date":1,"utc":true},{"year":2024,"month":11,"date":1,"utc":true},{"year":2025,"month":1,"date":1,"utc":true}],
                   "grid": true, "gridColor": "#dedede", "gridWidth": 10, "ticks": false, "labels": false, "domain": false, "zindex": 0}},
    "y": {"field": "v", "type": "quantitative",
          "axis": {"orient": "left", "values": [20,30,40,50,60,70,80,90,100,200,300,400,500,600,700,800,900,1000,2000,3000,4000,5000,6000,7000,8000,9000,10000,20000,30000,40000,50000,60000,70000,80000,90000,100000,200000,300000,400000,500000,600000,700000,800000,900000,1000000,2000000],
                   "grid": true, "ticks": false, "labels": false, "domain": false, "zindex": 0}},
    "color": {"field": "fit", "type": "ordinal", "legend": null, "scale": {"domain": [1,2,3,4,5,6,7,8,9,10,11,12,13,14,15,16,17,18,19], "range": ["#0000ff","#1c00e3","#3900c6","#5500aa","#71008e","#8e0071","#aa0055","#c60039","#e3001c","#ff0000","#e31c00","#c63900","#aa5500","#8e7100","#718e00","#55aa00","#39c600","#1ce300","#00ff00"]}}
   }
  },
  {
   "data": {"name": "f2"},
   "mark": {"type": "line", "strokeWidth": 12, "opacity": 0.7, "strokeCap": "square"},
   "encoding": {
    "x": {"field": "t", "type": "temporal", "axis": {"orient": "top", "ticks": false, "labels": false, "domain": true, "grid": false, "zindex": 1}},
    "y": {"field": "v", "type": "quantitative",
          "axis": {"orient": "left", "values": [20,30,40,50,60,70,80,90,200,300,400,500,600,700,800,900,2000,3000,4000,5000,6000,7000,8000,9000,20000,30000,40000,50000,60000,70000,80000,90000,200000,300000,400000,500000,600000,700000,800000,900000,2000000],
                   "tickSize": -21, "labels": false, "domain": false, "grid": false, "zindex": 1}},
    "color": {"field": "fit", "type": "ordinal", "legend": null, "scale": {"domain": [1,2,3,4,5,6,7,8,9,10,11,12,13,14,15,16,17,18,19], "range": ["#0000ff","#1c00e3","#3900c6","#5500aa","#71008e","#8e0071","#aa0055","#c60039","#e3001c","#ff0000","#e31c00","#c63900","#aa5500","#8e7100","#718e00","#55aa00","#39c600","#1ce300","#00ff00"]}}
   }
  },
  {
   "data": {"name": "l2"},
   "transform": [{"filter": "datum.pos == 't'"}],
   "mark": {"type": "rule", "strokeDash": [21, 10], "strokeWidth": 6, "opacity": 0.5},
   "encoding": {
    "x": {"field": "t", "type": "temporal", "axis": null},
    "y": {"field": "v0", "type": "quantitative",
          "axis": {"orient": "right", "values": [100,1000,10000,100000,1000000], "tickSize": -33, "labels": false, "domain": true, "grid": false, "zindex": 1}},
    "y2": {"datum": 1380000},
    "color": {"field": "fit", "type": "ordinal", "legend": null, "scale": {"domain": [1,2,3,4,5,6,7,8,9,10,11,12,13,14,15,16,17,18,19], "range": ["#0000ff","#1c00e3","#3900c6","#5500aa","#71008e","#8e0071","#aa0055","#c60039","#e3001c","#ff0000","#e31c00","#c63900","#aa5500","#8e7100","#718e00","#55aa00","#39c600","#1ce300","#00ff00"]}}
   }
  },
  {
   "data": {"name": "l2"},
   "transform": [{"filter": "datum.pos == 'b'"}],
   "mark": {"type": "rule", "strokeDash": [21, 10], "strokeWidth": 6, "opacity": 0.5},
   "encoding": {
    "x": {"field": "t", "type": "temporal", "axis": null},
    "y": {"field": "v0", "type": "quantitative",
          "axis": {"orient": "right", "values": [20,30,40,50,60,70,80,90,200,300,400,500,600,700,800,900,2000,3000,4000,5000,6000,7000,8000,9000,20000,30000,40000,50000,60000,70000,80000,90000,200000,300000,400000,500000,600000,700000,800000,900000,2000000],
                   "tickSize": -21, "labels": false, "domain": false, "grid": false, "zindex": 1}},
    "y2": {"datum": 17.8},
    "color": {"field": "fit", "type": "ordinal", "legend": null, "scale": {"domain": [1,2,3,4,5,6,7,8,9,10,11,12,13,14,15,16,17,18,19], "range": ["#0000ff","#1c00e3","#3900c6","#5500aa","#71008e","#8e0071","#aa0055","#c60039","#e3001c","#ff0000","#e31c00","#c63900","#aa5500","#8e7100","#718e00","#55aa00","#39c600","#1ce300","#00ff00"]}}
   }
  },
  {
   "data": {"name": "l2"},
   "transform": [{"filter": "datum.pos == 't'"}],
   "mark": {"type": "text", "font": "DejaVu Sans Mono", "fontWeight": "bold", "fontSize": 52, "angle": 345, "align": "center", "baseline": "middle"},
   "encoding": {
    "x": {"field": "t", "type": "temporal", "axis": null},
    "y": {"datum": 1260000, "axis": null},
    "text": {"field": "label"},
    "color": {"field": "fit", "type": "ordinal", "legend": null, "scale": {"domain": [1,2,3,4,5,6,7,8,9,10,11,12,13,14,15,16,17,18,19], "range": ["#0000ff","#1c00e3","#3900c6","#5500aa","#71008e","#8e0071","#aa0055","#c60039","#e3001c","#ff0000","#e31c00","#c63900","#aa5500","#8e7100","#718e00","#55aa00","#39c600","#1ce300","#00ff00"]}}
   }
  },
  {
   "data": {"name": "l2"},
   "transform": [{"filter": "datum.pos == 'b'"}],
   "mark": {"type": "text", "font": "DejaVu Sans Mono", "fontWeight": "bold", "fontSize": 52, "angle": 345, "align": "center", "baseline": "middle"},
   "encoding": {
    "x": {"field": "t", "type": "temporal", "axis": null},
    "y": {"datum": 21.4, "axis": null},
    "text": {"field": "label"},
    "color": {"field": "fit", "type": "ordinal", "legend": null, "scale": {"domain": [1,2,3,4,5,6,7,8,9,10,11,12,13,14,15,16,17,18,19], "range": ["#0000ff","#1c00e3","#3900c6","#5500aa","#71008e","#8e0071","#aa0055","#c60039","#e3001c","#ff0000","#e31c00","#c63900","#aa5500","#8e7100","#718e00","#55aa00","#39c600","#1ce300","#00ff00"]}}
   }
  },
  {
   "data": {"values": [{}]},
   "mark": {"type": "rect", "fill": "white", "stroke": "#404040", "strokeWidth": 11, "cornerRadius": 14},
   "encoding": {
    "x": {"datum": {"year":2023,"month":12,"date":19,"hours":23,"utc":true}, "type": "temporal", "axis": null},
    "x2": {"datum": {"year":2024,"month":5,"date":28,"hours":17,"utc":true}},
    "y": {"datum": 4910000, "axis": null},
    "y2": {"datum": 2970000}
   }
  },
  {
   "data": {"values": [{}]},
   "mark": {"type": "text", "text": "N = 19, mean = 4.19, median = 3.78, std = 1.66", "font": "DejaVu Sans Mono", "fontStyle": "italic", "fontSize": 51.5, "align": "left", "baseline": "middle", "color": "black"},
   "encoding": {
    "x": {"datum": {"year":2023,"month":12,"date":22,"hours":7,"utc":true}, "type": "temporal", "axis": null},
    "y": {"datum": 3810000, "axis": null}
   }
  },
  {
   "data": {"values": [{}]},
   "mark": {"type": "text", "text": "L=3.85\u00a0\u00a0S3", "font": "Liberation Sans", "fontSize": 132, "align": "left", "baseline": "alphabetic", "color": "black"},
   "encoding": {
    "x": {"datum": {"year":2024,"month":10,"date":31,"hours":14,"utc":true}, "type": "temporal", "axis": null},
    "y": {"datum": 112.5, "axis": null}
   }
  }
 ]
}
]
}
